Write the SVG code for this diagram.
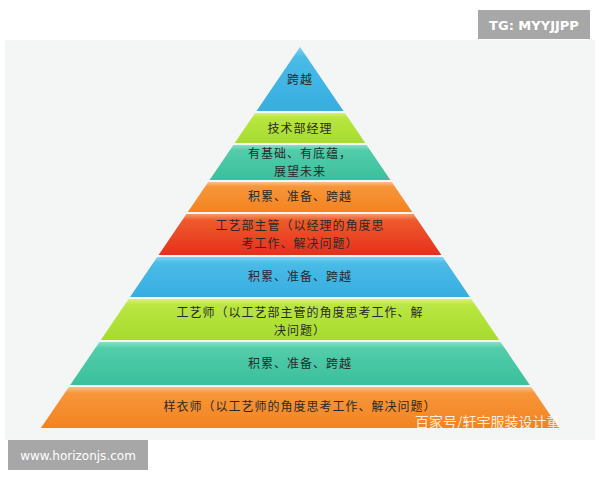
<svg xmlns="http://www.w3.org/2000/svg" width="600" height="480" viewBox="0 0 600 480">
<defs>
<linearGradient id="gBlue" x1="0" y1="0" x2="0" y2="1"><stop offset="0" stop-color="#7fd3f2"/><stop offset="0.15" stop-color="#4bbbe8"/><stop offset="1" stop-color="#36aee0"/></linearGradient>
<linearGradient id="gGreen" x1="0" y1="0" x2="0" y2="1"><stop offset="0" stop-color="#d6f27a"/><stop offset="0.15" stop-color="#b9e640"/><stop offset="1" stop-color="#a6dc2e"/></linearGradient>
<linearGradient id="gTeal" x1="0" y1="0" x2="0" y2="1"><stop offset="0" stop-color="#86e0c8"/><stop offset="0.15" stop-color="#52cdaa"/><stop offset="1" stop-color="#3bbf9c"/></linearGradient>
<linearGradient id="gOrange" x1="0" y1="0" x2="0" y2="1"><stop offset="0" stop-color="#fbc08a"/><stop offset="0.15" stop-color="#f7963a"/><stop offset="1" stop-color="#f3831f"/></linearGradient>
<linearGradient id="gRed" x1="0" y1="0" x2="0" y2="1"><stop offset="0" stop-color="#f79a6a"/><stop offset="0.15" stop-color="#ee5a2c"/><stop offset="1" stop-color="#e5301c"/></linearGradient>
</defs>
<style>
.t{font-family:"Noto Sans CJK SC","Noto Sans",sans-serif;font-size:12px;letter-spacing:1px;fill:#2a2a2a;text-anchor:middle}
.tag{font-family:"DejaVu Sans","Liberation Sans",sans-serif;font-size:12px;fill:#ffffff;text-anchor:middle}
.tg{font-family:"DejaVu Sans","Liberation Sans",sans-serif;font-size:13px;font-weight:bold;fill:#ffffff;text-anchor:middle}
.wm{font-family:"Noto Sans CJK SC",sans-serif;font-size:14px;fill:#ffffff;fill-opacity:0.85}
</style>
<rect x="0" y="0" width="600" height="480" fill="#ffffff"/>
<rect x="5" y="40" width="590" height="400" fill="#f4f5f5"/>
<g id="layer1"><polygon points="300,47 343.5,111 256.5,111" fill="url(#gBlue)"/><text class="t" x="300" y="84">跨越</text></g>
<g id="layer2"><polygon points="255.1,113 344.9,113 365.3,143 234.7,143" fill="url(#gGreen)"/><text class="t" x="300" y="133">技术部经理</text></g>
<g id="layer3"><polygon points="233.4,145 366.6,145 390.4,180 209.6,180" fill="url(#gTeal)"/><text class="t" x="300" y="158">有基础、有底蕴，</text><text class="t" x="300" y="175.5">展望未来</text></g>
<g id="layer4"><polygon points="208.2,182 391.8,182 412.2,212 187.8,212" fill="url(#gOrange)"/><text class="t" x="300" y="201">积累、准备、跨越</text></g>
<g id="layer5"><polygon points="186.4,214 413.6,214 441.4,255 158.6,255" fill="url(#gRed)"/><text class="t" x="300" y="230">工艺部主管（以经理的角度思</text><text class="t" x="300" y="247.5">考工作、解决问题）</text></g>
<g id="layer6"><polygon points="157.2,257 442.8,257 470,297 130,297" fill="url(#gBlue)"/><text class="t" x="300" y="281">积累、准备、跨越</text></g>
<g id="layer7"><polygon points="128.6,299 471.4,299 499.2,340 100.8,340" fill="url(#gGreen)"/><text class="t" x="300" y="317">工艺师（以工艺部主管的角度思考工作、解</text><text class="t" x="300" y="334.5">决问题）</text></g>
<g id="layer8"><polygon points="99.4,342 500.6,342 529.8,385 70.2,385" fill="url(#gTeal)"/><text class="t" x="300" y="368">积累、准备、跨越</text></g>
<g id="layer9"><polygon points="68.8,387 531.2,387 559.1,428 40.9,428" fill="url(#gOrange)"/><text class="t" x="300" y="411">样衣师（以工艺师的角度思考工作、解决问题）</text></g>
<g id="connectors"></g>
<text class="wm" x="415" y="427">百家号/轩宇服装设计童</text>
<g id="tg"><rect x="478" y="10" width="112" height="29" fill="#a7a7a7"/><text class="tg" x="534" y="29.5">TG: MYYJJPP</text></g>
<g id="www"><rect x="8" y="440" width="140" height="30" fill="#a7a7a7"/><text class="tag" x="78" y="460">www.horizonjs.com</text></g>
</svg>
